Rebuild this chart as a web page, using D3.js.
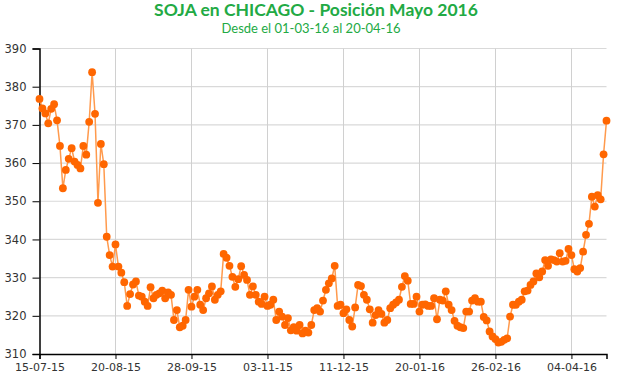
<!DOCTYPE html>
<html><head><meta charset="utf-8">
<script src="https://cdn.jsdelivr.net/npm/d3@7"></script>
<style>body{margin:0;background:#fff}svg{display:block}</style>
</head><body>
<svg id="c" width="620" height="375"></svg>
<script>
const title = "SOJA en CHICAGO - Posición Mayo 2016";
const subtitle = "Desde el 01-03-16 al 20-04-16";
const tickLabels = ["15-07-15","20-08-15","28-09-15","03-11-15","11-12-15","20-01-16","26-02-16","04-04-16"];
const tickEvery = 26;
const yTicks = [310,320,330,340,350,360,370,380,390];
const prices = [
376.8,374.3,373.0,370.4,374.2,375.4,371.2,364.5,353.4,358.2,
361.1,363.9,360.4,359.5,358.6,364.5,362.2,370.8,383.8,372.9,
349.6,365.0,359.7,340.7,335.9,332.9,338.7,332.9,331.3,328.8,
322.6,325.7,328.2,329.0,325.3,325.0,323.7,322.6,327.5,324.6,
325.5,325.9,326.6,324.6,326.1,325.5,318.9,321.5,317.0,317.4,
318.9,326.8,322.4,325.0,326.8,322.9,321.5,324.6,325.9,327.7,
324.2,325.5,326.4,336.2,335.2,333.1,330.2,327.6,329.6,333.0,
330.7,329.4,325.5,327.7,325.5,323.7,323.1,325.0,322.6,322.9,
324.2,318.9,321.1,319.8,317.6,319.4,316.2,317.0,316.1,317.6,
315.4,316.1,315.6,317.6,321.5,322.0,321.1,324.0,326.8,328.5,
329.8,333.1,322.6,322.9,320.7,321.7,318.9,317.2,322.2,328.1,
327.8,325.5,324.2,321.7,318.2,320.2,321.5,320.5,318.2,318.9,
322.0,322.9,323.5,324.2,327.6,330.4,329.2,323.1,323.1,325.0,
321.1,322.9,323.0,322.6,322.6,324.6,319.1,324.2,324.0,326.4,
322.9,321.5,318.7,317.4,317.0,316.8,321.1,321.1,324.0,324.6,
323.7,323.7,319.7,318.8,315.9,314.6,313.9,313.0,313.2,313.7,
314.1,319.8,322.9,322.9,323.7,324.2,326.4,326.6,328.1,329.0,
331.1,330.1,331.6,334.6,333.1,334.8,334.6,334.2,336.4,334.2,
334.4,337.5,335.9,332.2,331.6,332.5,336.8,341.2,344.1,351.2,
348.6,351.6,350.5,362.3,371.1
];

const svg = d3.select("#c");
const pLeft = 39.5, pRight = 606.5, pTop = 48.5, pBottom = 354;
const x = d3.scaleLinear().domain([0, prices.length - 1]).range([pLeft, pRight]);
const y = d3.scaleLinear().domain([310, 390]).range([pBottom, pTop]);
const green = "#22AA44";

svg.append("text").attr("x", 316).attr("y", 15.5).attr("text-anchor","middle")
  .attr("font-family","Lato, 'Open Sans', sans-serif").attr("font-weight","bold")
  .attr("font-size",17.5).attr("fill",green).text(title);
svg.append("text").attr("x", 311).attr("y", 33).attr("text-anchor","middle")
  .attr("font-family","Lato, 'Open Sans', sans-serif")
  .attr("font-size",13).attr("fill",green).text(subtitle);

const tickIdx = tickLabels.map((d,i)=>i*tickEvery);

const g = svg.append("g");
g.selectAll(".hg").data(yTicks.filter(v=>v>310)).enter().append("line")
  .attr("x1",pLeft).attr("x2",pRight).attr("y1",d=>y(d)).attr("y2",d=>y(d))
  .attr("stroke","#d9d9d9").attr("stroke-width",1.2);
g.selectAll(".vg").data(tickIdx.slice(1)).enter().append("line")
  .attr("x1",d=>Math.round(x(d))+0.5).attr("x2",d=>Math.round(x(d))+0.5).attr("y1",pTop).attr("y2",pBottom)
  .attr("stroke","#d0d0d0").attr("stroke-width",1);

const yAxis = d3.axisLeft(y).tickValues(yTicks).tickSize(7).tickPadding(6).tickFormat(d3.format("d"));
const ya = svg.append("g").attr("transform",`translate(${pLeft},0)`).call(yAxis);
ya.select(".domain").attr("stroke","#000").attr("stroke-width",1.5);
ya.selectAll(".tick line").attr("stroke","#000");
ya.selectAll("text").attr("font-family","'DejaVu Sans', sans-serif").attr("font-size",11.5).attr("fill","#333");

const xAxis = d3.axisBottom(x).tickValues(tickIdx).tickSize(5).tickPadding(4).tickFormat((d,i)=>tickLabels[i]);
const xa = svg.append("g").attr("transform",`translate(0,${pBottom})`).call(xAxis);
xa.select(".domain").attr("stroke","#000").attr("stroke-width",1.5);
xa.selectAll(".tick line").attr("stroke","#000");
xa.selectAll("text").attr("font-family","'DejaVu Sans', sans-serif").attr("font-size",11).attr("fill","#333");

const line = d3.line().x((d,i)=>x(i)).y(d=>y(d));
svg.append("path").datum(prices).attr("d",line).attr("fill","none")
  .attr("stroke","#FF9A4D").attr("stroke-width",1.5);
svg.selectAll(".pt").data(prices).enter().append("circle")
  .attr("cx",(d,i)=>x(i)).attr("cy",d=>y(d)).attr("r",3.9).attr("fill","#FF6600");
</script>
</body></html>
